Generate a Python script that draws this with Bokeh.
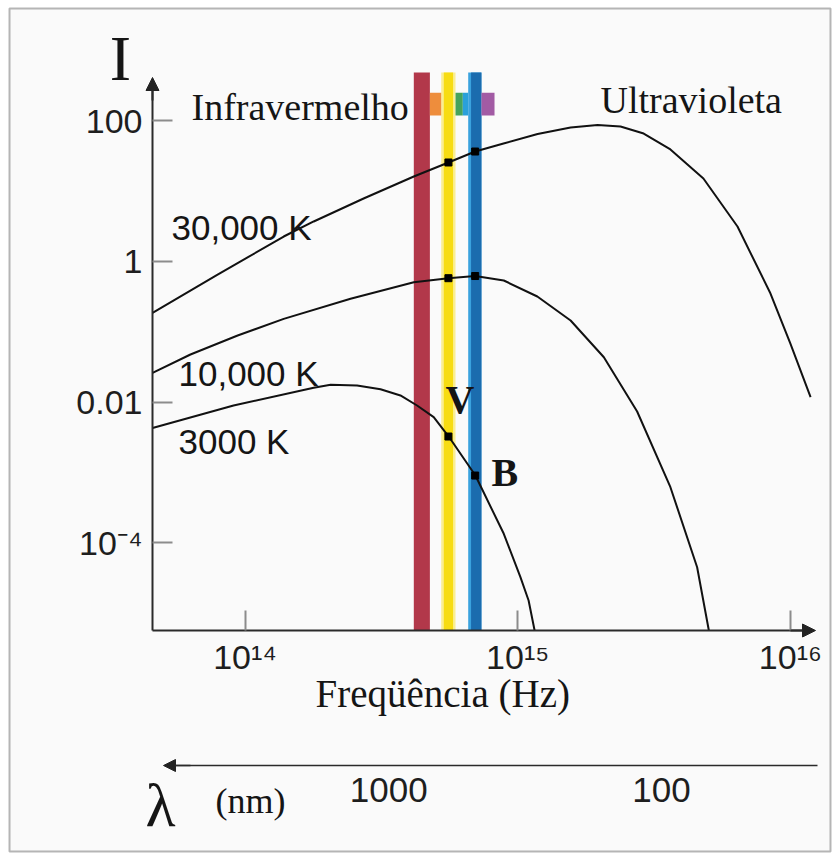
from bokeh.plotting import figure
from bokeh.models import (Range1d, LogScale, LogAxis, FixedTicker, Label, Arrow,
                          NormalHead, BoxAnnotation)
from bokeh.embed import file_html
from bokeh.resources import INLINE

# ---------------- data (log10 values) ----------------
curve_names = ["30,000 K", "10,000 K", "3000 K"]

lognu_30000 = [13.661, 13.898, 14.142, 14.252, 14.435, 14.619, 14.746, 14.844, 14.948,
               15.073, 15.194, 15.293, 15.377, 15.462, 15.560, 15.681, 15.806, 15.927,
               16.000, 16.074]
logI_30000 = [-0.731, -0.193, 0.354, 0.568, 0.895, 1.208, 1.407, 1.563, 1.677,
              1.812, 1.905, 1.940, 1.919, 1.819, 1.592, 1.179, 0.496, -0.457,
              -1.168, -1.932]

lognu_10000 = [13.661, 13.800, 13.973, 14.142, 14.387, 14.619, 14.746, 14.844, 14.949,
               15.072, 15.194, 15.316, 15.438, 15.560, 15.658, 15.701]
logI_10000 = [-1.587, -1.324, -1.054, -0.817, -0.532, -0.296, -0.239, -0.208, -0.272,
              -0.499, -0.841, -1.363, -2.135, -3.212, -4.350, -5.250]

lognu_3000 = [13.661, 13.958, 14.252, 14.314, 14.411, 14.497, 14.570, 14.631, 14.692,
              14.747, 14.845, 14.949, 15.010, 15.040, 15.062]
logI_3000 = [-2.370, -2.050, -1.798, -1.755, -1.765, -1.819, -1.907, -2.050, -2.216,
             -2.491, -3.046, -3.875, -4.492, -4.824, -5.250]

# V and B marks (yellow and blue bands)
mark_lognu = [14.746, 14.844]
mark_logI_30000 = [1.407, 1.563]
mark_logI_10000 = [-0.239, -0.208]
mark_logI_3000 = [-2.491, -3.046]

# vertical colour bands (log10 Hz)
band_lo = [14.619, 14.7195, 14.729, 14.8185, 14.829]
band_hi = [14.678, 14.772, 14.763, 14.867, 14.867]
band_colors = ["#B2384A", "#FAEE92", "#F7DC12", "#3AA2DE", "#1B6CAE"]

# small spectrum swatches (log10 Hz, log10 I)
swatch_lo = [14.678, 14.772, 14.7987, 14.867]
swatch_hi = [14.7195, 14.7987, 14.8185, 14.915]
swatch_colors = ["#EE8D3C", "#45A35C", "#2AA0DA", "#A25BA4"]
swatch_logI = [2.075, 2.398]

freq_ticks = [10**14, 10**15, 10**16]
freq_tick_labels = ["10\u00b9\u2074", "10\u00b9\u2075", "10\u00b9\u2076"]
I_ticks = [100, 1, 0.01, 0.0001]
I_tick_labels = ["100", "1", "0.01", "10\u207b\u2074"]
lam_ticks = [1000, 100]
lam_tick_labels = ["1000", "100"]

# ---------------- layout helpers (page pixel -> data) ----------------
X0, DX = 244.5, 272.7   # page x of 10^14 Hz, px per decade
Y0, DY = 120.3, 70.3    # page y of I=100, px per decade


def fx(px):
    return 10 ** (14 + (px - X0) / DX)


def fy(py):
    return 10 ** (2 - (py - Y0) / DY)


def lam_at(px):          # wavelength scale as printed (1000 nm label at x=388)
    return 1000 * 10 ** (-(px - 388.3) / DX)


W, H = 833, 854
AX_L, AX_R, AX_B, AX_T = 152, 815, 630, 77    # axis lines (page px)
BAND_TOP = 72
LAM_Y = 765

p = figure(width=W, height=H, x_axis_type="log", y_axis_type="log",
           x_range=Range1d(fx(0), fx(W)), y_range=Range1d(fy(H), fy(0)),
           output_backend="svg", toolbar_location=None,
           min_border_left=0, min_border_right=0, min_border_top=0, min_border_bottom=0)
p.background_fill_color = "#FFFFFF"
p.border_fill_color = "#FFFFFF"
p.outline_line_color = None
p.xgrid.visible = False
p.ygrid.visible = False

SANS = "Liberation Sans"
SERIF = "Liberation Serif"

# picture frame and light background
p.add_layout(BoxAnnotation(left=fx(9), right=fx(830), top=fy(8), bottom=fy(851),
                           fill_color="#FAFAFA", fill_alpha=1, line_color="#111111",
                           line_width=2, level="underlay"))

# frequency axis
xa = p.xaxis[0]
xa.fixed_location = fy(AX_B)
xa.ticker = FixedTicker(ticks=freq_ticks)
xa.major_label_overrides = dict(zip(freq_ticks, freq_tick_labels))
xa.major_tick_in = 20
xa.major_tick_out = 0
xa.major_tick_line_color = "#8C8C8C"
xa.major_tick_line_width = 2
xa.minor_tick_line_color = None
xa.axis_line_color = "#2A2A2A"
xa.axis_line_width = 2
xa.bounds = (fx(AX_L), fx(AX_R - 3))
xa.major_label_text_font = SANS
xa.major_label_text_font_size = "34px"
xa.major_label_text_color = "#1E1E1E"
xa.major_label_standoff = 7

# intensity axis
ya = p.yaxis[0]
ya.fixed_location = fx(AX_L)
ya.ticker = FixedTicker(ticks=I_ticks)
ya.major_label_overrides = dict(zip(I_ticks, I_tick_labels))
ya.major_tick_in = 20
ya.major_tick_out = 0
ya.major_tick_line_color = "#8C8C8C"
ya.major_tick_line_width = 2
ya.minor_tick_line_color = None
ya.axis_line_color = "#2A2A2A"
ya.axis_line_width = 2
ya.bounds = (fy(AX_B), fy(AX_T + 3))
ya.major_label_text_font = SANS
ya.major_label_text_font_size = "34px"
ya.major_label_text_color = "#1E1E1E"
ya.major_label_standoff = 10

# wavelength axis
p.extra_x_ranges = {"lam": Range1d(start=lam_at(0), end=lam_at(W))}
p.extra_x_scales = {"lam": LogScale()}
la = LogAxis(x_range_name="lam", fixed_location=fy(LAM_Y),
             ticker=FixedTicker(ticks=lam_ticks),
             major_label_overrides=dict(zip(lam_ticks, lam_tick_labels)),
             major_tick_in=0, major_tick_out=0, major_tick_line_color=None,
             minor_tick_line_color=None, axis_line_color="#2A2A2A",
             axis_line_width=1.5, bounds=(lam_at(817), lam_at(170)),
             major_label_standoff=12, major_label_text_font=SANS,
             major_label_text_font_size="35px", major_label_text_color="#1E1E1E")
p.add_layout(la, "below")

# colour bands
I_floor = fy(AX_B)
p.quad(left=[10 ** v for v in band_lo], right=[10 ** v for v in band_hi],
       bottom=I_floor, top=fy(BAND_TOP), fill_color=band_colors, line_color=None)

# spectrum swatches
p.quad(left=[10 ** v for v in swatch_lo], right=[10 ** v for v in swatch_hi],
       bottom=10 ** swatch_logI[0], top=10 ** swatch_logI[1],
       fill_color=swatch_colors, line_color=None)

# Planck curves
for lnu, lI in [(lognu_30000, logI_30000), (lognu_10000, logI_10000), (lognu_3000, logI_3000)]:
    p.line([10 ** v for v in lnu], [10 ** v for v in lI], line_color="#111111",
           line_width=2, line_join="round")

# V / B marks
for mI in [mark_logI_30000, mark_logI_10000, mark_logI_3000]:
    p.scatter([10 ** v for v in mark_lognu], [10 ** v for v in mI], marker="square",
              size=7, color="#000000")

# axis arrow heads
p.add_layout(Arrow(end=NormalHead(size=13, fill_color="#222222", line_color="#222222"),
                   x_start=fx(AX_L), y_start=fy(100), x_end=fx(AX_L), y_end=fy(AX_T),
                   line_color="#2A2A2A", line_width=2))
p.add_layout(Arrow(end=NormalHead(size=13, fill_color="#222222", line_color="#222222"),
                   x_start=fx(790), y_start=fy(AX_B), x_end=fx(AX_R), y_end=fy(AX_B),
                   line_color="#2A2A2A", line_width=2))
p.add_layout(Arrow(end=NormalHead(size=12, fill_color="#222222", line_color="#222222"),
                   x_start=fx(190), y_start=fy(LAM_Y), x_end=fx(163), y_end=fy(LAM_Y),
                   line_color="#2A2A2A", line_width=1.5))


def lab(px, pymid, text, font, size, align="left", style="normal"):
    p.add_layout(Label(x=fx(px), y=fy(pymid), text=text, text_font=font,
                       text_font_size=size, text_align=align,
                       text_baseline="middle", text_font_style=style,
                       text_color="#151515"))


lab(120, 57.5, "I", SERIF, "64px", align="center")
lab(191, 106.5, "Infravermelho", SERIF, "38px")
lab(600, 99, "Ultravioleta", SERIF, "38px")
lab(171, 226.5, curve_names[0], SANS, "35px")
lab(178, 373.3, curve_names[1], SANS, "35px")
lab(178, 440.5, curve_names[2], SANS, "35px")
lab(445, 399, "V", SERIF, "40px", style="bold")
lab(491, 472.3, "B", SERIF, "40px", style="bold")
lab(315, 692.5, "Freqüência (Hz)", SERIF, "39px")
lab(145, 804, "\u03bb", SERIF, "62px")
lab(215, 800, "(nm)", SERIF, "36px")

open("out.html", "w").write(file_html(p, INLINE))
